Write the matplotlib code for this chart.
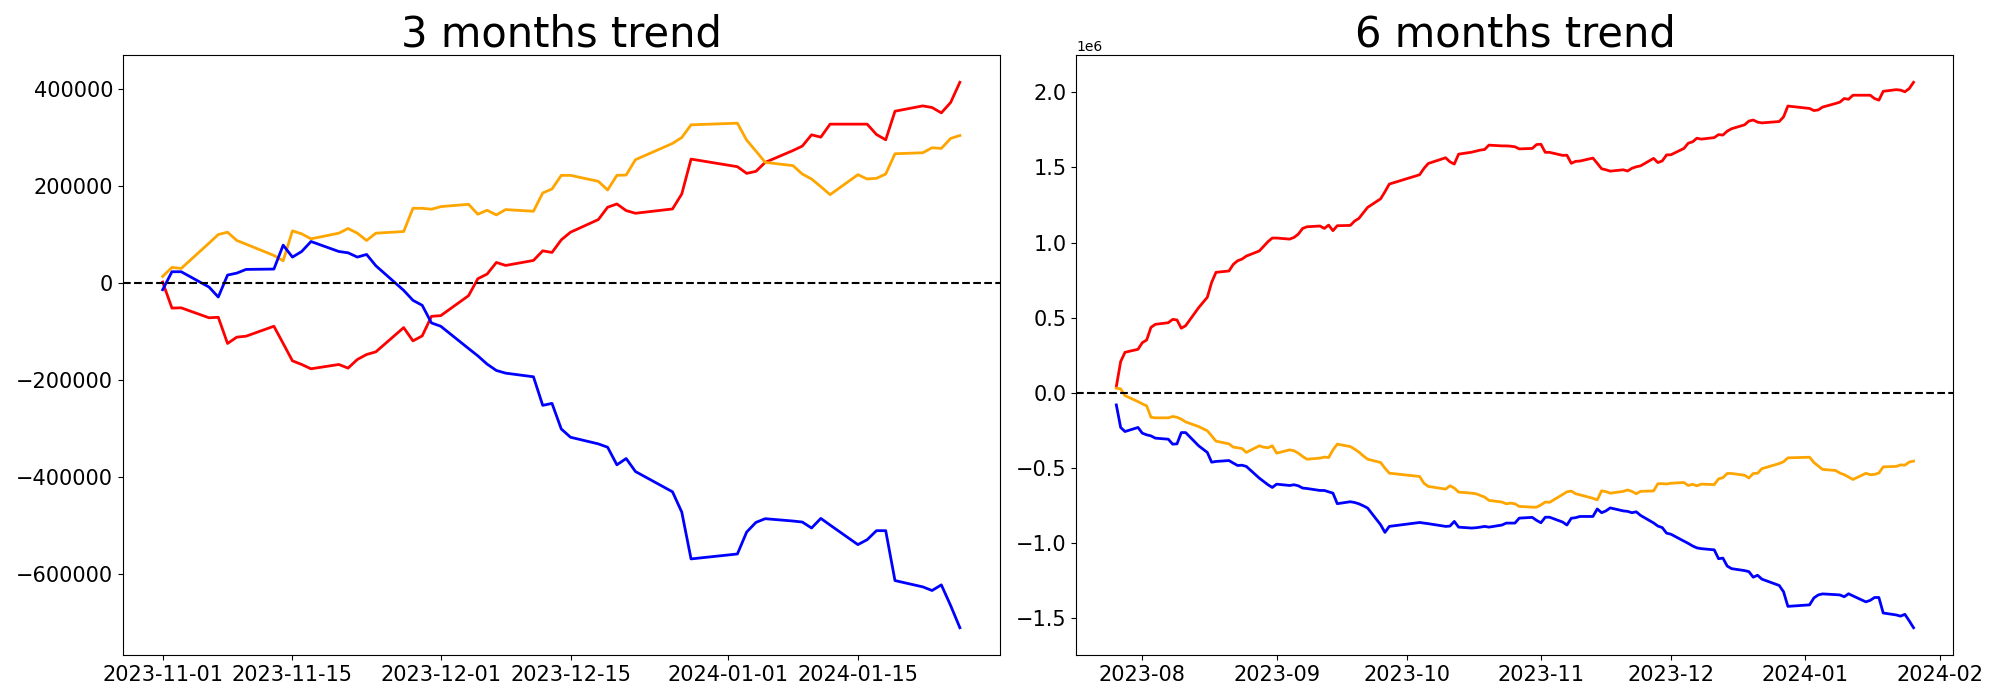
import numpy as np
import pandas as pd
import matplotlib
matplotlib.use('Agg')
import matplotlib.pyplot as plt

# KRX closed days inside the window
holidays = ['2023-08-15', '2023-09-28', '2023-09-29', '2023-10-02', '2023-10-03',
            '2023-10-09', '2023-12-25', '2023-12-29', '2024-01-01']
dates_3m = pd.bdate_range('2023-11-01', '2024-01-26', freq='C', holidays=holidays)
dates_6m = pd.bdate_range('2023-07-26', '2024-01-26', freq='C', holidays=holidays)

#%% 3 months (cumulative from 2023-11-01)
red_3m = [1700, -52000, -51500, -72000, -71000, -125000, -112000, -110000, -89500, -125000,
          -160900, -168400, -177300, -168400, -175900, -158100, -147800, -142300, -92300, -119700,
          -109400, -69000, -67600, -26400, 8600, 18200, 42200, 36000, 46300, 66200,
          62800, 88800, 104600, 130700, 156100, 162900, 149200, 143700, 152600, 183500,
          255500, 239800, 226000, 230200, 248700, 273200, 282300, 305600, 300800, 327600,
          327600, 327600, 306300, 295300, 354300, 365300, 361900, 350900, 372200, 414000]
orange_3m = [13400, 31900, 29800, 82000, 99800, 104600, 87500, 79900, 56600, 45600,
             107400, 101200, 90900, 102600, 112200, 102600, 87500, 102600, 106000, 154000,
             154000, 152000, 157400, 162200, 141700, 149900, 140300, 151300, 147800, 185600,
             193800, 221900, 221900, 209600, 191700, 221900, 222600, 254200, 287800, 300100,
             326200, 329600, 294600, 272000, 248700, 242000, 224700, 214400, 198600, 182100,
             223300, 214400, 215800, 224700, 266500, 268600, 278900, 277500, 298100, 304200]
blue_3m = [-14100, 23000, 23000, -8600, -29200, 16100, 20200, 27800, 28500, 77900,
           53200, 64800, 85400, 64800, 62100, 53200, 58700, 35300, -15400, -36000,
           -46300, -82700, -89500, -135500, -150600, -167700, -180800, -186300, -193800, -252800,
           -248700, -301500, -318600, -332300, -339200, -375500, -362500, -389300, -431200, -473100,
           -569700, -559500, -514200, -494300, -486700, -491500, -493600, -505900, -486100, -499800,
           -540200, -530000, -511400, -511400, -614400, -627400, -634900, -623300, -665800, -711700]

#%% 6 months (cumulative from 2023-07-26)
red_6m = [42000, 208000, 270000, 290000,
          334000, 352000, 436000, 456000, 467000, 489000, 485000, 430000, 447000, 567000, 636000,
          735000, 802000, 811000, 855000, 879000, 890000, 910000, 944000, 975000, 1006000, 1030000,
          1030000, 1023000, 1034000, 1056000, 1094000, 1105000, 1110000, 1094000, 1116000, 1079000,
          1112000, 1114000, 1143000, 1161000, 1198000, 1234000, 1291000, 1338000, 1389000,
          1451000, 1493000, 1526000, 1564000, 1537000, 1522000, 1588000, 1601000, 1608000, 1615000,
          1619000, 1648000, 1643000, 1643000, 1641000, 1637000, 1623000, 1626000, 1652000,
          1654000, 1600000, 1600000, 1580000, 1581000, 1527000, 1540000, 1542000, 1562000, 1527000,
          1491000, 1484000, 1475000, 1484000, 1476000, 1494000, 1504000, 1510000, 1560000, 1532000,
          1543000, 1583000, 1584000, 1626000, 1661000, 1670000, 1694000, 1688000, 1698000, 1718000,
          1715000, 1741000, 1757000, 1783000, 1808000, 1815000, 1801000, 1796000, 1805000, 1836000,
          1908000, 1892000, 1878000, 1882000, 1901000, 1925000, 1934000, 1958000, 1953000, 1980000,
          1980000, 1980000, 1958000, 1947000, 2006000, 2017000, 2014000, 2003000, 2024000, 2066000]
orange_6m = [31000, 27000, -18000, -58000,
             -73000, -86000, -162000, -166000, -166000, -157000, -162000, -175000, -193000, -224000, -252000,
             -286000, -321000, -339000, -361000, -365000, -370000, -396000, -352000, -361000, -365000, -352000,
             -401000, -379000, -385000, -401000, -423000, -441000, -434000, -427000, -430000, -379000,
             -341000, -357000, -374000, -394000, -419000, -441000, -463000, -501000, -534000,
             -556000, -601000, -622000, -640000, -618000, -633000, -660000, -667000, -671000, -682000,
             -693000, -715000, -726000, -738000, -733000, -738000, -755000, -760000, -760000,
             -745000, -726000, -728000, -676000, -658000, -653000, -671000, -678000, -701000, -712000,
             -651000, -657000, -667000, -655000, -646000, -655000, -671000, -655000, -652000, -604000,
             -604000, -606000, -601000, -596000, -616000, -608000, -618000, -607000, -610000, -572000,
             -564000, -536000, -536000, -548000, -566000, -536000, -535000, -504000, -470000, -458000,
             -432000, -428000, -463000, -486000, -509000, -516000, -533000, -544000, -559000, -576000,
             -535000, -544000, -542000, -533000, -492000, -489000, -479000, -481000, -460000, -454000]
blue_6m = [-80000, -230000, -257000, -230000,
           -268000, -279000, -286000, -301000, -308000, -341000, -339000, -264000, -264000, -352000, -396000,
           -461000, -456000, -450000, -467000, -483000, -481000, -489000, -567000, -589000, -611000, -629000,
           -607000, -616000, -611000, -618000, -633000, -636000, -649000, -649000, -658000, -667000,
           -737000, -724000, -729000, -738000, -751000, -766000, -877000, -928000, -888000,
           -862000, -866000, -870000, -888000, -886000, -855000, -893000, -899000, -897000, -893000,
           -888000, -893000, -879000, -866000, -866000, -866000, -833000, -828000, -848000,
           -864000, -827000, -827000, -859000, -879000, -834000, -830000, -822000, -822000, -772000,
           -797000, -785000, -765000, -785000, -788000, -797000, -791000, -815000, -865000, -886000,
           -896000, -933000, -940000, -986000, -1001000, -1018000, -1031000, -1036000, -1044000, -1103000,
           -1099000, -1152000, -1169000, -1182000, -1189000, -1226000, -1213000, -1239000, -1281000, -1323000,
           -1420000, -1410000, -1364000, -1344000, -1337000, -1342000, -1344000, -1356000, -1336000, -1350000,
           -1390000, -1380000, -1361000, -1361000, -1464000, -1477000, -1485000, -1473000, -1516000, -1562000]

fig, axes = plt.subplots(ncols=2, figsize=(20, 7), dpi=100)
fig.subplots_adjust(left=0.0614, right=0.9767, bottom=0.0643, top=0.9214, wspace=0.0875)

panels = [(axes[0], '3 months trend', dates_3m, red_3m, orange_3m, blue_3m),
          (axes[1], '6 months trend', dates_6m, red_6m, orange_6m, blue_6m)]
for ax, title, dates, r, o, b in panels:
    ax.plot(dates, r, color='red', lw=2)
    ax.plot(dates, o, color='orange', lw=2)
    ax.plot(dates, b, color='blue', lw=2)
    ax.axhline(0, color='black', linestyle='--', lw=1.5)
    ax.set_title(title, fontsize=30)
    ax.tick_params(labelsize=15)

plt.savefig('out.png', dpi=100, format='png')
